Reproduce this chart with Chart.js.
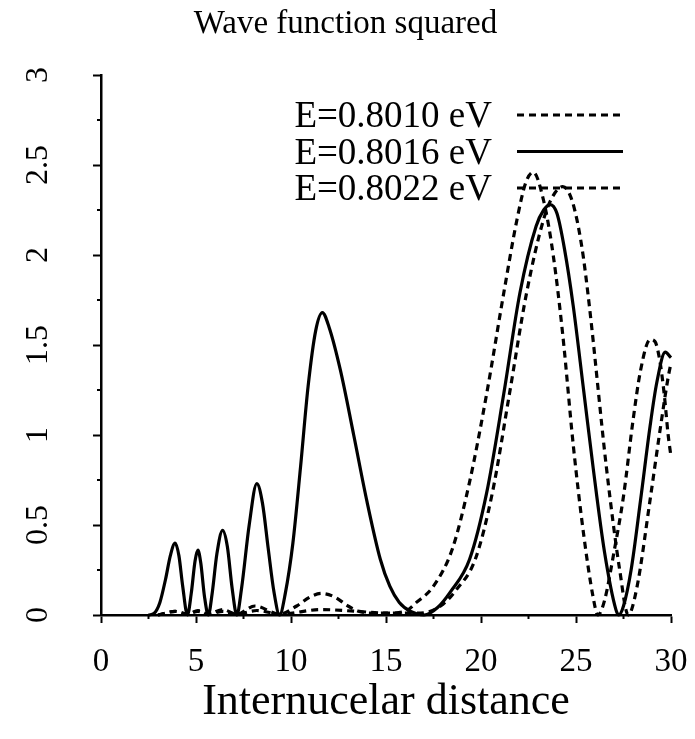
<!DOCTYPE html>
<html>
<head>
<meta charset="utf-8">
<title>Wave function squared</title>
<script src="https://cdn.jsdelivr.net/npm/chart.js@4.4.0/dist/chart.umd.min.js"></script>
<style>
  html, body { margin: 0; padding: 0; background: #fff; }
  #wrap { width: 695px; height: 739px; }
</style>
</head>
<body>
<div id="wrap"><canvas id="waveChart"></canvas></div>
<script>
const seriesLabels = ['E=0.8010 eV', 'E=0.8016 eV', 'E=0.8022 eV'];

// E=0.8010 eV (dashed, outer peaks shifted right)
const x8010 = [3.0, 3.9, 4.55, 5.1, 5.65, 6.4, 7.15, 8.1, 9.4, 10.3, 11.0, 11.6, 12.3, 13.0, 13.6, 14.5, 15.5, 16.5, 17.3, 18.0, 18.7, 19.7, 20.6, 21.5, 22.4, 23.3, 23.8, 24.3, 24.8, 25.3, 25.7, 26.6, 27.3, 27.75, 28.2, 28.9, 29.4, 29.85, 30.0];
const y8010 = [0, 0.02, 0.005, 0.025, 0.005, 0.03, 0.005, 0.05, 0.005, 0.05, 0.1, 0.12, 0.1, 0.05, 0.02, 0.01, 0.01, 0.01, 0.02, 0.06, 0.14, 0.31, 0.68, 1.23, 1.79, 2.2, 2.33, 2.38, 2.3, 2.05, 1.72, 0.82, 0.25, 0, 0.15, 0.64, 1.01, 1.32, 1.4];

// E=0.8016 eV (solid, resonance)
const x8016 = [2.5, 2.8, 3.1, 3.4, 3.65, 3.9, 4.1, 4.3, 4.55, 4.75, 4.95, 5.1, 5.25, 5.45, 5.65, 5.85, 6.1, 6.4, 6.65, 6.9, 7.15, 7.4, 7.8, 8.2, 8.5, 8.8, 9.1, 9.4, 9.7, 10.1, 10.5, 10.9, 11.3, 11.65, 12.0, 12.6, 13.3, 14.0, 14.7, 15.2, 15.7, 16.3, 17.0, 17.7, 18.4, 19.4, 20.3, 21.2, 22.05, 22.9, 23.3, 23.65, 24.0, 24.4, 24.85, 25.4, 25.9, 26.5, 27.1, 27.25, 27.5, 27.9, 28.4, 28.9, 29.25, 29.7, 30.0];
const y8016 = [0, 0.01, 0.07, 0.2, 0.33, 0.4, 0.33, 0.16, 0, 0.12, 0.3, 0.36, 0.29, 0.1, 0, 0.12, 0.34, 0.47, 0.38, 0.15, 0, 0.15, 0.5, 0.73, 0.62, 0.37, 0.13, 0, 0.12, 0.4, 0.82, 1.27, 1.58, 1.68, 1.6, 1.36, 1.0, 0.63, 0.31, 0.16, 0.07, 0.02, 0, 0.04, 0.13, 0.31, 0.68, 1.23, 1.79, 2.16, 2.25, 2.28, 2.23, 2.03, 1.72, 1.25, 0.82, 0.35, 0.03, 0, 0.05, 0.25, 0.64, 1.05, 1.29, 1.46, 1.43];

// E=0.8022 eV (dashed, outer peaks shifted left)
const x8022 = [3.0, 3.9, 4.55, 5.1, 5.65, 6.4, 7.15, 8.2, 9.4, 11.6, 13.5, 15.0, 16.0, 16.6, 17.5, 18.5, 19.4, 20.3, 21.2, 21.9, 22.35, 22.75, 23.3, 23.8, 24.3, 24.85, 25.4, 25.9, 26.15, 26.5, 27.0, 27.5, 28.0, 28.4, 28.9, 29.15, 29.4, 29.65, 29.85, 30.0];
const y8022 = [0, 0.02, 0.005, 0.02, 0.005, 0.02, 0.005, 0.025, 0.005, 0.03, 0.02, 0.01, 0.02, 0.07, 0.16, 0.37, 0.74, 1.23, 1.79, 2.2, 2.4, 2.46, 2.3, 2.0, 1.56, 0.95, 0.45, 0.1, 0, 0.08, 0.35, 0.66, 1.08, 1.36, 1.53, 1.52, 1.42, 1.22, 1.0, 0.88];

const xTicks = [0, 5, 10, 15, 20, 25, 30];
const yTicks = [0, 0.5, 1, 1.5, 2, 2.5, 3];

const serif = '"Liberation Serif", "Times New Roman", serif';

function toPoints(xs, ys) {
  return xs.map((x, i) => ({ x: x, y: ys[i] }));
}

function lineSet(label, xs, ys, dash) {
  return {
    label: label,
    data: toPoints(xs, ys),
    borderColor: '#000',
    borderWidth: 3.2,
    borderDash: dash,
    pointRadius: 0,
    fill: false,
    cubicInterpolationMode: 'monotone',
    clip: false
  };
}

// minor ticks + legend (text first, line sample after it)
const extras = {
  id: 'extras',
  afterDraw(chart) {
    const ctx = chart.ctx;
    const xs = chart.scales.x;
    const ys = chart.scales.y;
    const area = chart.chartArea;

    ctx.save();
    ctx.strokeStyle = '#000';
    ctx.lineWidth = 2;
    ctx.setLineDash([]);
    for (let v = 2.5; v < 30; v += 5) {
      const px = xs.getPixelForValue(v);
      ctx.beginPath();
      ctx.moveTo(px, area.bottom);
      ctx.lineTo(px, area.bottom + 4);
      ctx.stroke();
    }
    for (let v = 0.25; v < 3; v += 0.5) {
      const py = ys.getPixelForValue(v);
      ctx.beginPath();
      ctx.moveTo(area.left, py);
      ctx.lineTo(area.left - 4, py);
      ctx.stroke();
    }

    ctx.font = '37px ' + serif;
    ctx.fillStyle = '#000';
    ctx.textAlign = 'right';
    ctx.textBaseline = 'alphabetic';
    const textRight = 492;
    const firstBase = 127;
    const rowGap = 36.5;
    chart.data.datasets.forEach((ds, i) => {
      const base = firstBase + i * rowGap;
      ctx.fillText(ds.label, textRight, base);
      ctx.lineWidth = 3;
      ctx.setLineDash(ds.borderDash || []);
      ctx.beginPath();
      ctx.moveTo(517, base - 12);
      ctx.lineTo(623, base - 12);
      ctx.stroke();
    });
    ctx.restore();
  }
};

const ctx = document.getElementById('waveChart').getContext('2d');

new Chart(ctx, {
  type: 'line',
  data: {
    datasets: [
      lineSet(seriesLabels[0], x8010, y8010, [7, 5]),
      lineSet(seriesLabels[1], x8016, y8016, []),
      lineSet(seriesLabels[2], x8022, y8022, [7, 5])
    ]
  },
  options: {
    responsive: true,
    maintainAspectRatio: false,
    animation: false,
    layout: { padding: { left: 20, right: 24, top: 0, bottom: 0 } },
    plugins: {
      legend: { display: false },
      tooltip: { enabled: false },
      title: {
        display: true,
        text: 'Wave function squared',
        color: '#000',
        font: { family: serif, size: 33, weight: 'normal' },
        padding: { top: 5, bottom: 30.4 }
      }
    },
    scales: {
      x: {
        type: 'linear',
        min: 0,
        max: 30,
        afterBuildTicks: s => { s.ticks = xTicks.map(v => ({ value: v })); },
        afterFit: s => { s.height = 124; s.paddingLeft = 0; s.paddingRight = 0; },
        ticks: {
          color: '#000',
          padding: 20,
          font: { family: serif, size: 33 },
          callback: v => String(v)
        },
        grid: { drawOnChartArea: false, tickLength: 8, tickWidth: 2, tickColor: '#000' },
        border: { color: '#000', width: 2.5 },
        title: {
          display: true,
          text: 'Internucelar distance',
          color: '#000',
          font: { family: serif, size: 44 },
          padding: { top: 0, bottom: 10 }
        }
      },
      y: {
        type: 'linear',
        min: 0,
        max: 3,
        afterBuildTicks: s => { s.ticks = yTicks.map(v => ({ value: v })); },
        afterFit: s => { s.width = 81; s.paddingTop = 0; s.paddingBottom = 0; },
        ticks: {
          color: '#000',
          minRotation: 90,
          maxRotation: 90,
          crossAlign: 'center',
          padding: 34,
          font: { family: serif, size: 32 },
          callback: v => String(v)
        },
        grid: { drawOnChartArea: false, tickLength: 8, tickWidth: 2, tickColor: '#000' },
        border: { color: '#000', width: 2.5 }
      }
    }
  },
  plugins: [extras]
});
</script>
</body>
</html>
